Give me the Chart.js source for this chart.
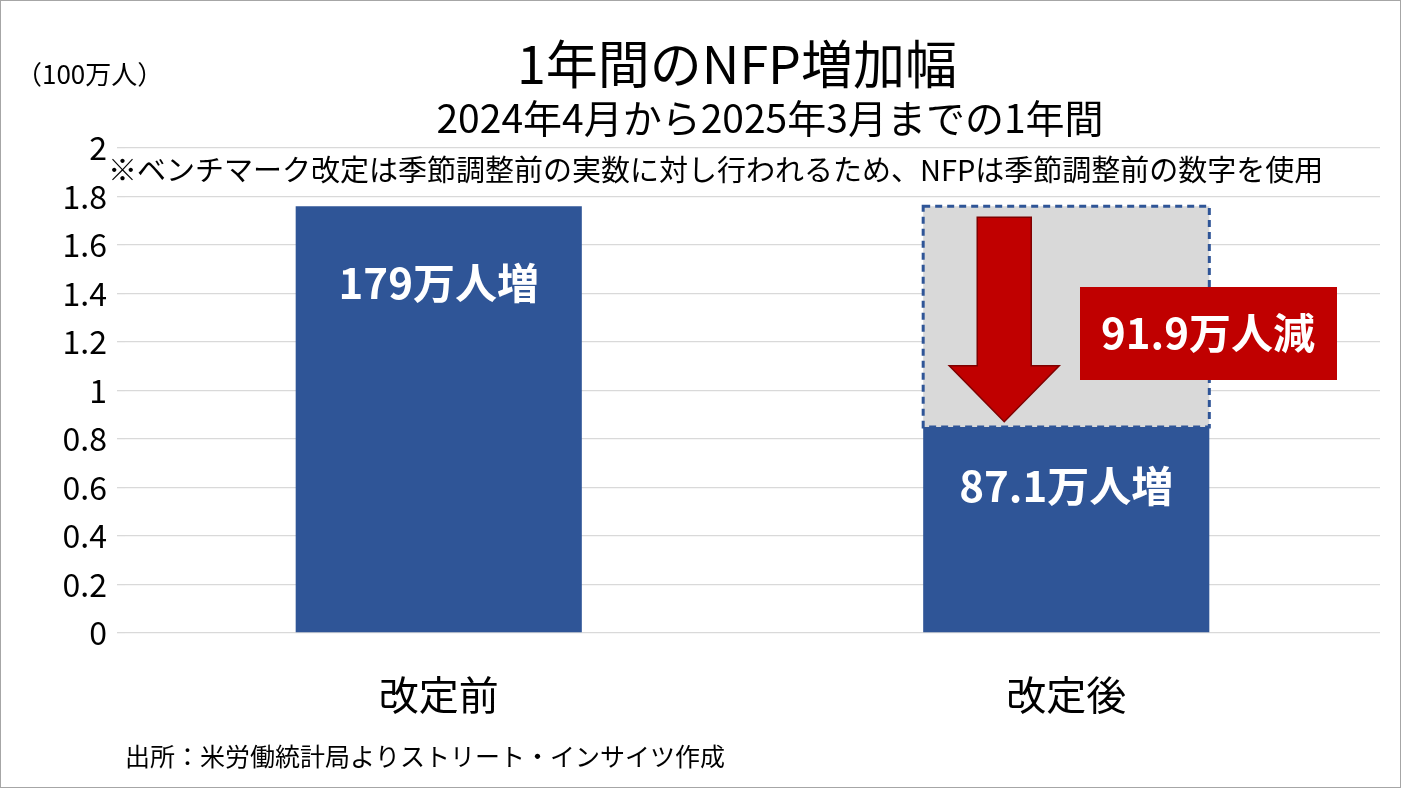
<!DOCTYPE html>
<html><head><meta charset="utf-8">
<script src="https://cdn.jsdelivr.net/npm/chart.js@4"></script>
<style>body{margin:0;background:#fff}#w{width:1401px;height:788px;position:relative}</style>
</head><body><div id="w"><canvas id="c" width="1401" height="788"></canvas></div>
<script>
const categories = ['改定前', '改定後'];
const nfpValues = [1.76, 0.85];
const revisionDrop = [0, 0.91];
const barLabels = ['179万人増', '87.1万人増'];
const dropLabel = '91.9万人減';
const F = '"Noto Sans CJK JP", "Noto Sans", sans-serif';

const deco = {
  id: 'deco',
  afterDraw(ch) {
    const c = ch.ctx, y = ch.scales.y;
    c.save();
    c.strokeStyle = '#a6a6a6'; c.lineWidth = 1; c.strokeRect(0.5, 0.5, 1400, 787);
    c.fillStyle = '#000'; c.textBaseline = 'middle';
    c.textAlign = 'center';
    c.font = '52px ' + F; c.fillText('1年間のNFP増加幅', 737, 64);
    c.font = '39px ' + F; c.fillText('2024年4月から2025年3月までの1年間', 770, 118);
    c.textAlign = 'left';
    c.font = '29px ' + F; c.fillText('※ベンチマーク改定は季節調整前の実数に対し行われるため、NFPは季節調整前の数字を使用', 108, 170);
    c.font = '26px ' + F; c.fillText('（100万人）', 16, 74);
    c.font = '25px ' + F; c.fillText('出所：米労働統計局よりストリート・インサイツ作成', 125, 756);
    const m0 = ch.getDatasetMeta(0), m1 = ch.getDatasetMeta(1);
    const g = m1.data[1], bw = g.width;
    c.setLineDash([7, 5]); c.strokeStyle = '#2f5597'; c.lineWidth = 3;
    c.strokeRect(g.x - bw / 2, g.y, bw, g.base - g.y);
    c.setLineDash([]);
    c.fillStyle = '#fff'; c.font = 'bold 42px ' + F; c.textAlign = 'center';
    for (let i = 0; i < barLabels.length; i++) {
      const b = m0.data[i];
      const ty = y.getPixelForValue(nfpValues[i]) + (i === 0 ? 77 : 59);
      c.fillText(barLabels[i], b.x, ty);
    }
    const ax = g.x - 62, top = g.y + 11, tip = y.getPixelForValue(0.9) + 7;
    c.fillStyle = '#c00000'; c.strokeStyle = '#7f0000'; c.lineWidth = 1.5;
    c.beginPath();
    c.moveTo(ax - 27, top); c.lineTo(ax + 27, top); c.lineTo(ax + 27, tip - 56);
    c.lineTo(ax + 55, tip - 56); c.lineTo(ax, tip); c.lineTo(ax - 55, tip - 56);
    c.lineTo(ax - 27, tip - 56); c.closePath(); c.fill(); c.stroke();
    c.fillStyle = '#c00000'; c.fillRect(1080, 287, 257, 93);
    c.fillStyle = '#fff'; c.fillText(dropLabel, 1208, 333);
    c.restore();
  }
};

new Chart(document.getElementById('c'), {
  type: 'bar',
  data: {
    labels: categories,
    datasets: [
      { data: nfpValues, backgroundColor: '#2f5597', barPercentage: 0.912, categoryPercentage: 0.5 },
      { data: revisionDrop, backgroundColor: '#d9d9d9', barPercentage: 0.912, categoryPercentage: 0.5 }
    ]
  },
  options: {
    responsive: false, animation: false,
    layout: { padding: { top: 148, right: 21, left: 0, bottom: 0 } },
    plugins: { legend: { display: false }, tooltip: { enabled: false } },
    scales: {
      x: { stacked: true, grid: { display: false }, border: { display: false },
           ticks: { color: '#000', font: { size: 40, family: F }, padding: 30 },
           afterFit(s) { s.height = 155; } },
      y: { stacked: true, min: 0, max: 2,
           grid: { color: '#d9d9d9', lineWidth: 1.3 }, border: { display: false },
           ticks: { stepSize: 0.2, color: '#000', font: { size: 32, family: F }, padding: 10,
                    callback: v => Math.round(v * 10) / 10 },
           afterFit(s) { s.width = 125; } }
    }
  },
  plugins: [deco]
});
</script></body></html>
